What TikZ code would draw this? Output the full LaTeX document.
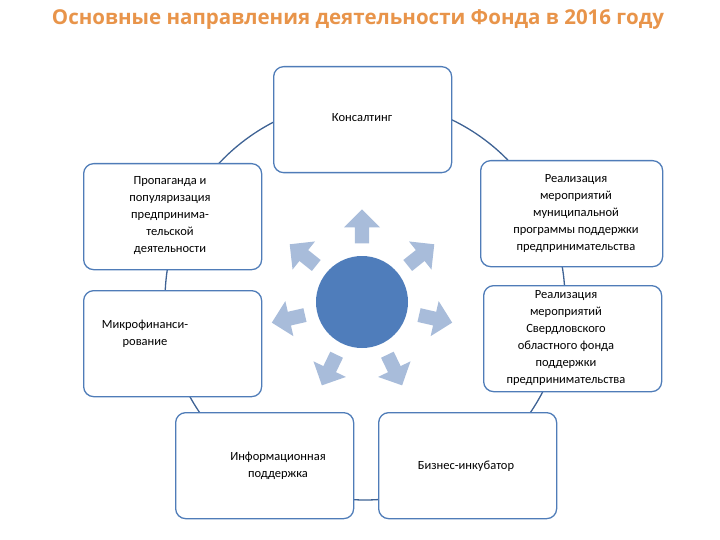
\documentclass[tikz,border=0pt]{standalone}
\usepackage{fontspec}
\setmainfont{Carlito}
\newfontfamily\titlefont{Open Sans}
\usetikzlibrary{shapes.arrows}
\definecolor{ttl}{HTML}{E8944A}
\definecolor{bord}{HTML}{4F7CB8}
\definecolor{ring}{HTML}{3E6294}
\definecolor{core}{HTML}{4F7DBB}
\definecolor{arr}{HTML}{A8BCDA}
\begin{document}
\begin{tikzpicture}[x=1pt,y=-1pt,
  box/.style={draw=bord,line width=1.3pt,fill=white,rounded corners=10pt,minimum width=178pt,minimum height=106pt,anchor=north west},
  lbl/.style={align=center,font=\fontsize{12.5}{17}\selectfont},
  spoke/.style={single arrow,fill=arr,draw=none,minimum height=34pt,minimum width=36pt,single arrow head extend=5pt,inner sep=3pt}]
\useasboundingbox (0,0) rectangle (720,540);
\node[font=\titlefont\bfseries\fontsize{20.5}{24}\selectfont,text=ttl] (title) at (358,20) {Основные направления деятельности Фонда в 2016 году};
\draw[ring,line width=1.3pt] (365,300) circle (200);
\node[box] (b1) at (273,66) {};
\node[lbl] (t1) at (362,118) {Консалтинг};
\node[box] (b2) at (83,163) {};
\node[lbl] (t2) at (170,216) {Пропаганда и\\популяризация\\предпринима-\\тельской\\деятельности};
\node[box,minimum width=182pt] (b3) at (480,160) {};
\node[lbl] (t3) at (576,214) {Реализация\\мероприятий\\муниципальной\\программы поддержки\\предпринимательства};
\node[box] (b4) at (83,290) {};
\node[lbl] (t4) at (145,334) {Микрофинанси-\\рование};
\node[box] (b5) at (483,285) {};
\node[lbl] (t5) at (566,338) {Реализация\\мероприятий\\Свердловского\\областного фонда\\поддержки\\предпринимательства};
\node[box] (b6) at (175,412) {};
\node[lbl] (t6) at (278,466) {Информационная\\поддержка};
\node[box] (b7) at (378,412) {};
\node[lbl] (t7) at (466,466) {Бизнес-инкубатор};
\fill[core] (362,302) circle (46) node (c) {};
\foreach \a [count=\i] in {90,38.6,-12.9,-64.3,-115.7,-167.1,141.4}
  \node[spoke,rotate=\a] (s\i) at ({362+72*cos(\a)},{302-72*sin(\a)}) {};
\end{tikzpicture}
\end{document}
